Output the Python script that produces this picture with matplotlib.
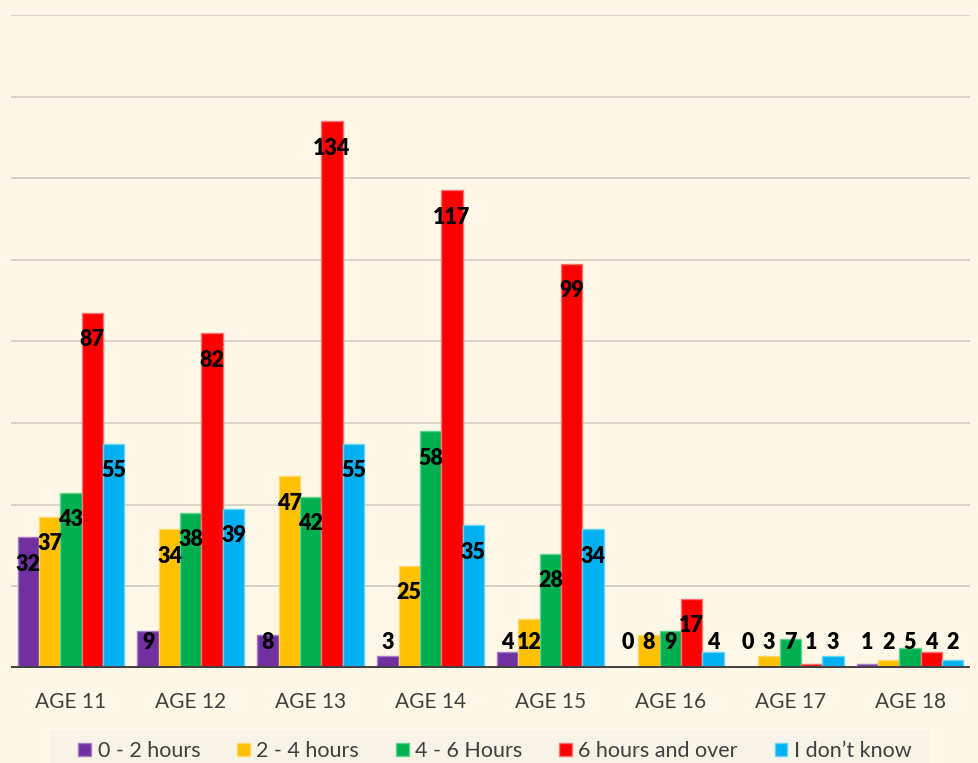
import matplotlib
matplotlib.use("Agg")
import matplotlib.pyplot as plt
import matplotlib.patches as mpatches
import numpy as np

categories = ["AGE 11", "AGE 12", "AGE 13", "AGE 14", "AGE 15", "AGE 16", "AGE 17", "AGE 18"]
series_names = ["0 - 2 hours", "2 - 4 hours", "4 - 6 Hours", "6 hours and over", "I don\u2019t know"]
s0_2 = [32, 9, 8, 3, 4, 0, 0, 1]
s2_4 = [37, 34, 47, 25, 12, 8, 3, 2]
s4_6 = [43, 38, 42, 58, 28, 9, 7, 5]
s6_plus = [87, 82, 134, 117, 99, 17, 1, 4]
s_dk = [55, 39, 55, 35, 34, 4, 3, 2]
series = [s0_2, s2_4, s4_6, s6_plus, s_dk]
colors = ["#7030A0", "#FFC000", "#00B050", "#FF0000", "#00B0F0"]
edges = ["#A77BC9", "#FFD966", "#5FD38D", "#FF7070", "#66D4F7"]

bg = "#FFF8E6"
plt.rcParams['font.family'] = ['Lato', 'DejaVu Sans']

fig = plt.figure(figsize=(9.79, 7.63), dpi=100, facecolor=bg)
ax = fig.add_axes([11/979, 1-668/763, 959/979, (668-15)/763])
ax.set_facecolor(bg)

n = len(categories)
x = np.arange(n)
bw = 0.178
for i, (vals, c, ec) in enumerate(zip(series, colors, edges)):
    pos = x + (i - 2) * bw
    ax.bar(pos, vals, width=bw, color=c, edgecolor=ec, linewidth=1.0, zorder=3, label=series_names[i])
    for p, v in zip(pos, vals):
        ly = max(v - 6.6, 6.3)
        ax.text(p, ly, str(v), ha='center', va='center', fontsize=15.5, fontweight='heavy',
                color='black', zorder=5)

ax.set_xlim(-0.5, n - 0.5)
ax.set_ylim(0, 160)
for g in range(20, 161, 20):
    ax.axhline(g, color='#D8D3C7', lw=1.4, zorder=1)
ax.axhline(0, color='#404040', lw=2.8, zorder=4)
for s in ax.spines.values():
    s.set_visible(False)
ax.set_yticks([])
ax.set_xticks(x)
ax.set_xticklabels(categories, fontsize=15, color='#404040')
ax.tick_params(axis='x', length=0, pad=17)

# legend background
fig.patches.append(mpatches.Rectangle((50/979, 0), 880/979, 33/763, transform=fig.transFigure,
                                      facecolor='#F7F3E6', edgecolor='none', zorder=0))
handles = [mpatches.Patch(facecolor=c, edgecolor=ec, linewidth=1.0) for c, ec in zip(colors, edges)]
leg = fig.legend(handles, series_names, loc='center', bbox_to_anchor=(495/979, 1-751/763),
                 ncol=5, frameon=False, fontsize=15.5, handlelength=0.6, handleheight=0.6,
                 handletextpad=0.3, columnspacing=1.7, labelcolor='#404040')

fig.savefig("out.png", dpi=100, facecolor=bg)
